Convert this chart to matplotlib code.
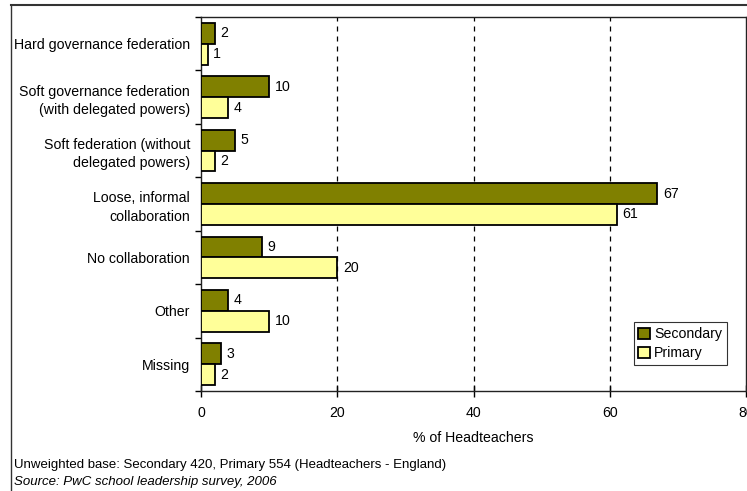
import matplotlib
matplotlib.use("Agg")
import matplotlib.pyplot as plt
from matplotlib.lines import Line2D
import numpy as np

plt.rcParams['font.family'] = ['Liberation Sans', 'DejaVu Sans']

categories = ["Hard governance federation",
              "Soft governance federation\n(with delegated powers)",
              "Soft federation (without\ndelegated powers)",
              "Loose, informal\ncollaboration",
              "No collaboration",
              "Other",
              "Missing"]
secondary = [2, 10, 5, 67, 9, 4, 3]
primary = [1, 4, 2, 61, 20, 10, 2]
xticks = [0, 20, 40, 60, 80]

W, H = 747, 491
fig = plt.figure(figsize=(W / 100, H / 100), dpi=100)
ax = fig.add_axes([201 / W, 1 - 391 / H, 545 / W, 374 / H])

FS = 10.2
n = len(categories)
y = np.arange(n)
bh = 0.39
ax.barh(y - bh / 2, secondary, height=bh, color="#808000", edgecolor="black", linewidth=1.3, label="Secondary", zorder=3)
ax.barh(y + bh / 2, primary, height=bh, color="#FFFF99", edgecolor="black", linewidth=1.3, label="Primary", zorder=3)

for i in range(n):
    ax.annotate(str(secondary[i]), (secondary[i], y[i] - bh / 2), xytext=(4, 0), textcoords="offset points",
                va="center", ha="left", fontsize=FS)
    ax.annotate(str(primary[i]), (primary[i], y[i] + bh / 2), xytext=(4, 0), textcoords="offset points",
                va="center", ha="left", fontsize=FS)

ax.set_ylim(n - 0.5, -0.5)
ax.set_xlim(0, 80)
ax.set_xticks(xticks)
ax.set_xticklabels([str(t) for t in xticks], fontsize=FS)
ax.set_yticks(y)
ax.set_yticklabels(categories, fontsize=FS, linespacing=1.4)
ax.tick_params(axis="y", length=0, pad=8)
ax.set_yticks(np.arange(n + 1) - 0.5, minor=True)
ax.tick_params(axis="y", which="minor", length=4, direction="out", width=1)
ax.tick_params(axis="x", direction="inout", length=8, width=1, pad=7)
for t in [20, 40, 60]:
    ax.axvline(t, color="black", linestyle=(0, (4, 4)), linewidth=0.9, zorder=1)
for s in ax.spines.values():
    s.set_linewidth(1.0)
    s.set_color("#222222")
ax.set_xlabel("% of Headteachers", fontsize=FS, labelpad=8)

leg = ax.legend(loc="lower right", bbox_to_anchor=((727 - 201) / 545, (391 - 365) / 374),
                fontsize=FS, frameon=True, fancybox=False, edgecolor="black",
                handlelength=0.8, handleheight=0.8, handletextpad=0.3, borderpad=0.35,
                labelspacing=0.35, borderaxespad=0)
leg.get_frame().set_linewidth(0.8)

fig.text(14 / W, 1 - 465 / H, "Unweighted base: Secondary 420, Primary 554 (Headteachers - England)",
         fontsize=9.5, va="center", ha="left")
fig.text(14 / W, 1 - 482 / H, "Source: PwC school leadership survey, 2006",
         fontsize=9.5, va="center", ha="left", style="italic")

fig.add_artist(Line2D([11 / W, 1.0], [1 - 5 / H, 1 - 5 / H], color="#333333", linewidth=1.5, transform=fig.transFigure))
fig.add_artist(Line2D([11 / W, 11 / W], [1 - 5 / H, 0], color="#333333", linewidth=1.0, transform=fig.transFigure))

fig.savefig("out.png", dpi=100)
